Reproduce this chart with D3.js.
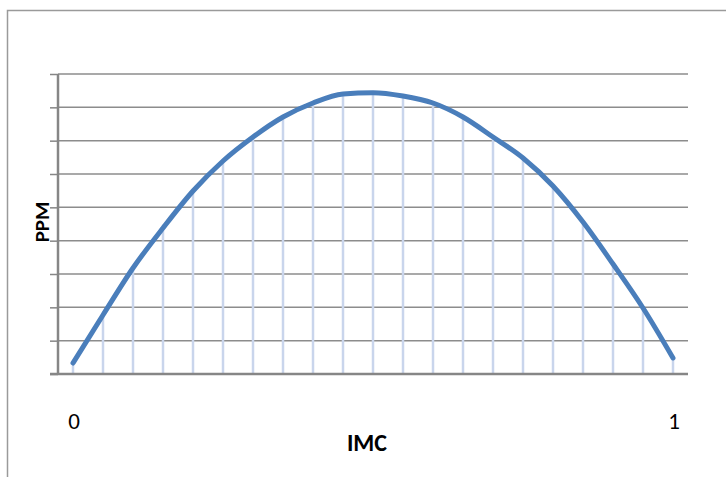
<!DOCTYPE html>
<html>
<head>
<meta charset="utf-8">
<script src="https://cdn.jsdelivr.net/npm/d3@7"></script>
<style>
  body { margin: 0; background: #fff; }
  svg { display: block; font-family: Calibri, Carlito, Lato, "Open Sans", sans-serif; }
</style>
</head>
<body>
<svg width="726" height="477"></svg>
<script>
var svg = d3.select("svg"),
    width = +svg.attr("width"),
    height = +svg.attr("height");

// IMC from 0 to 1 in steps of 0.05
var imc = ["0", "0.05", "0.1", "0.15", "0.2", "0.25", "0.3", "0.35", "0.4", "0.45", "0.5",
           "0.55", "0.6", "0.65", "0.7", "0.75", "0.8", "0.85", "0.9", "0.95", "1"];
// PPM (grid step = 1)
var ppm = [0.33, 1.77, 3.18, 4.38, 5.49, 6.39, 7.11, 7.71, 8.13, 8.40, 8.44,
           8.34, 8.13, 7.71, 7.11, 6.48, 5.64, 4.56, 3.30, 1.98, 0.48];
var xLabels = ["0", "1"];
var yTicks = d3.range(0, 10);

var plot = { left: 58, right: 688, top: 74, bottom: 374 };

var x = d3.scaleBand().domain(imc).range([plot.left, plot.right]);
var y = d3.scaleLinear().domain([0, 9]).range([plot.bottom, plot.top]);

// outer chart border
svg.append("path")
    .attr("d", "M7.5,477 L7.5,10.5 L726,10.5")
    .attr("fill", "none")
    .attr("stroke", "#9a9a9a")
    .attr("stroke-width", 1.5);

// horizontal gridlines
svg.append("g")
    .selectAll("line")
    .data(yTicks.filter(function(d) { return d > 0; }))
    .enter().append("line")
    .attr("x1", plot.left)
    .attr("x2", plot.right)
    .attr("y1", function(d) { return y(d); })
    .attr("y2", function(d) { return y(d); })
    .attr("stroke", "#8c8c8c")
    .attr("stroke-width", 1.5);

// y axis with ticks, no labels
var yAxis = svg.append("g")
    .attr("transform", "translate(" + plot.left + ",0)")
    .call(d3.axisLeft(y).tickValues(yTicks).tickSize(8).tickFormat(""));
yAxis.select(".domain").attr("stroke", "#868686").attr("stroke-width", 2.5)
    .attr("d", "M0," + plot.top + "V" + plot.bottom);
yAxis.selectAll(".tick line").attr("stroke", "#868686").attr("stroke-width", 1.5);

// drop lines
svg.append("g")
    .selectAll("line")
    .data(ppm)
    .enter().append("line")
    .attr("x1", function(d, i) { return x(imc[i]) + x.bandwidth() / 2; })
    .attr("x2", function(d, i) { return x(imc[i]) + x.bandwidth() / 2; })
    .attr("y1", function(d) { return y(d); })
    .attr("y2", y(0))
    .attr("stroke", "#c9d5ec")
    .attr("stroke-width", 2.5);

// x axis line
svg.append("line")
    .attr("x1", plot.left - 8)
    .attr("x2", plot.right)
    .attr("y1", y(0))
    .attr("y2", y(0))
    .attr("stroke", "#868686")
    .attr("stroke-width", 2.5);

// the curve
var line = d3.line()
    .x(function(d, i) { return x(imc[i]) + x.bandwidth() / 2; })
    .y(function(d) { return y(d); })
    .curve(d3.curveMonotoneX);

svg.append("path")
    .datum(ppm)
    .attr("d", line)
    .attr("fill", "none")
    .attr("stroke", "#4a7ebb")
    .attr("stroke-width", 5)
    .attr("stroke-linecap", "round");

// x labels
svg.append("g")
    .selectAll("text")
    .data(xLabels)
    .enter().append("text")
    .attr("x", function(d) { return x(d) + x.bandwidth() / 2 + 1; })
    .attr("y", 429)
    .attr("text-anchor", "middle")
    .style("font-size", "23px")
    .attr("fill", "#000")
    .text(function(d) { return d; });

// axis titles
svg.append("text")
    .attr("x", 367)
    .attr("y", 451)
    .attr("text-anchor", "middle")
    .style("font-size", "24px")
    .style("font-weight", "900")
    .text("IMC");

svg.append("text")
    .attr("transform", "translate(49,222) rotate(-90)")
    .attr("text-anchor", "middle")
    .style("font-size", "21px")
    .style("font-weight", "900")
    .text("PPM");
</script>
</body>
</html>
